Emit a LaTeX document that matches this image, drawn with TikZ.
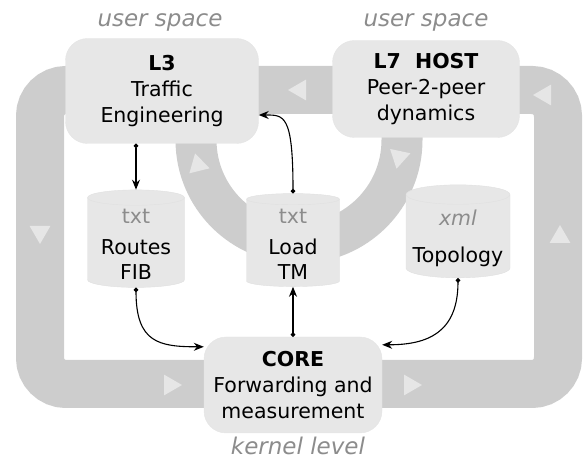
\documentclass[tikz,border=0pt]{standalone}
\usepackage{fontspec}
\setmainfont{DejaVu Sans}
\usetikzlibrary{arrows.meta,shapes.geometric}

\definecolor{bandgray}{RGB}{205,205,205}
\definecolor{markgray}{RGB}{230,230,230}
\definecolor{boxgray}{RGB}{231,231,231}
\definecolor{taggray}{RGB}{140,140,140}

\tikzset{
band/.style={
  draw=bandgray,
  line width=48pt,
},
flowmark/.style={
  regular polygon,
  regular polygon sides=3,
  fill=markgray,
  inner sep=0pt,
  minimum size=24pt,
},
layer/.style={
  rectangle,
  rounded corners=22pt,
  fill=boxgray,
  draw=black!10,
  align=center,
  font=\fontsize{20.5}{26}\selectfont,
},
store/.style={
  cylinder,
  shape border rotate=90,
  aspect=0.2,
  fill=boxgray,
  draw=black!12,
  align=center,
  font=\fontsize{20.5}{25}\selectfont,
},
space/.style={
  draw=none,
  text=taggray,
  font=\fontsize{23}{26}\selectfont\itshape,
},
link/.style={
  {Circle[length=4.5pt]}->,
  line width=1.1pt,
},
}

\begin{document}
\begin{tikzpicture}[x=1pt, y=-1pt, >={Stealth[length=10pt,width=8pt]}]
\useasboundingbox (0,0) rectangle (587,462);

%outer loop
\draw[band, rounded corners=26pt] (40,90) rectangle (558,384);
%inner loop
\draw[band, line width=41pt] (196,110) -- (196,140) arc[start angle=180, end angle=0, radius=103] -- (402,110);

%direction marks
\foreach \x/\y/\r in {40/232/180, 300/90/90, 545/95/90, 560/237/0, 170/385/270, 410/385/270, 198/165/14, 399/157/168}
  \node[flowmark, rotate=\r] at (\x,\y) {};

%user space
\node[layer, minimum width=193pt, minimum height=105pt](L3) at (162,91) {\textbf{L3}\\Traffic\\Engineering};
\node[space](L3space) at (160,22) {user space};
\node[layer, minimum width=187pt, minimum height=97pt](L7) at (426,89) {\textbf{L7\ \ HOST}\\Peer-2-peer\\dynamics};
\node[space](L7space) at (426,22) {user space};

%files
\node[store, minimum width=97pt, minimum height=93pt](routes) at (136,244) {{\color{taggray}txt}\\[6pt]Routes\\FIB};
\node[store, minimum width=93pt, minimum height=93pt](load) at (293,244) {{\color{taggray}txt}\\[6pt]Load\\TM};
\node[store, minimum width=104pt, minimum height=93pt](topo) at (458,238) {{\color{taggray}\itshape xml}\\[12pt]Topology};

%kernel
\node[layer, minimum width=178pt, minimum height=96pt](core) at (293,385) {\textbf{CORE}\\Forwarding and\\measurement};
\node[space](kernel) at (298,446) {kernel level};

\draw[link] (L3.south -| routes.north) -- (routes.north);
\draw[link] (load.north) .. controls +(0,-80) and +(25,0) .. ([yshift=-24pt]L3.east);
\draw[link] (routes.south) .. controls +(0,55) and +(-45,0) .. ([yshift=-10pt]core.north west);
\draw[link] (core.north) -- (load.south);
\draw[link] (topo.south) .. controls +(0,55) and +(45,0) .. ([yshift=-8pt]core.north east);

\end{tikzpicture}
\end{document}
